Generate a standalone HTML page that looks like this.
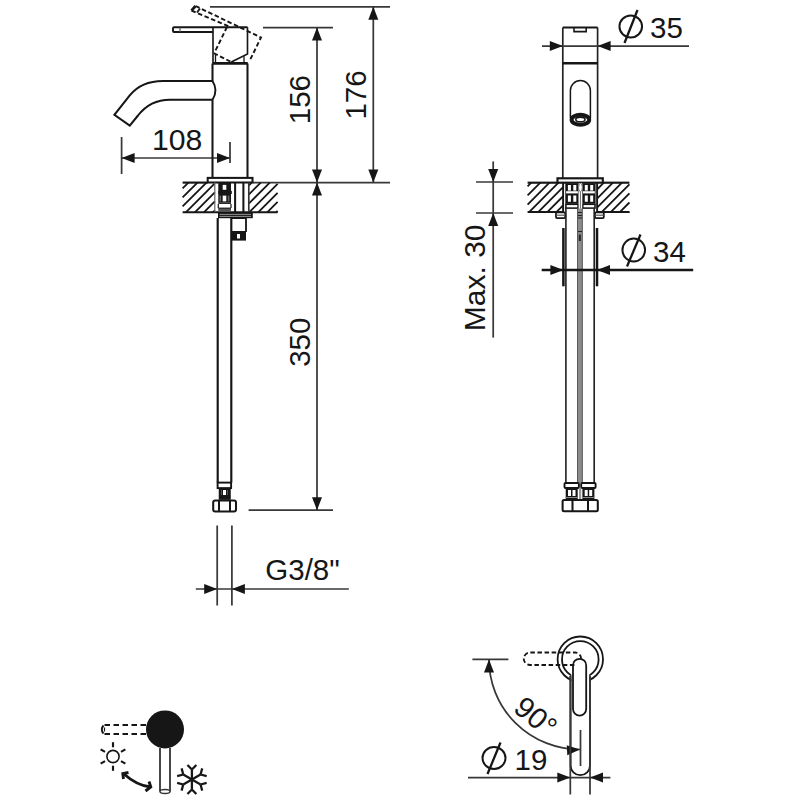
<!DOCTYPE html>
<html><head><meta charset="utf-8"><style>
html,body{margin:0;padding:0;background:#fff;}
svg{display:block;}
text{font-family:"Liberation Sans",sans-serif;fill:#161616;}
</style></head><body>
<svg width="800" height="800" viewBox="0 0 800 800">
<line x1="210" y1="6.8" x2="390" y2="6.8" stroke="#383838" stroke-width="1.74" />
<line x1="263" y1="27.6" x2="333" y2="27.6" stroke="#383838" stroke-width="1.74" />
<line x1="253" y1="182.6" x2="390" y2="182.6" stroke="#383838" stroke-width="1.74" />
<line x1="248.6" y1="510.2" x2="333" y2="510.2" stroke="#383838" stroke-width="1.74" />
<line x1="317" y1="27.6" x2="317" y2="182.6" stroke="#383838" stroke-width="1.74" />
<polygon points="317,27.6 322,40.6 312,40.6" fill="#161616"/>
<polygon points="317,182.6 312,169.6 322,169.6" fill="#161616"/>
<line x1="373.3" y1="6.8" x2="373.3" y2="182.6" stroke="#383838" stroke-width="1.74" />
<polygon points="373.3,6.8 378.3,19.8 368.3,19.8" fill="#161616"/>
<polygon points="373.3,182.6 368.3,169.6 378.3,169.6" fill="#161616"/>
<line x1="317" y1="182.6" x2="317" y2="510.2" stroke="#383838" stroke-width="1.74" />
<polygon points="317,182.6 322,195.6 312,195.6" fill="#161616"/>
<polygon points="317,510.2 312,497.2 322,497.2" fill="#161616"/>
<line x1="121.6" y1="158" x2="230" y2="158" stroke="#383838" stroke-width="1.74" />
<line x1="121.6" y1="137" x2="121.6" y2="174" stroke="#383838" stroke-width="1.74" />
<line x1="230" y1="142" x2="230" y2="163" stroke="#383838" stroke-width="1.74" />
<polygon points="121.6,158 134.6,153 134.6,163" fill="#161616"/>
<polygon points="230,158 217,163 217,153" fill="#161616"/>
<line x1="195.8" y1="589" x2="348.8" y2="589" stroke="#383838" stroke-width="1.74" />
<line x1="217.2" y1="525.5" x2="217.2" y2="605.5" stroke="#383838" stroke-width="1.74" />
<line x1="231.9" y1="525.5" x2="231.9" y2="605.5" stroke="#383838" stroke-width="1.74" />
<polygon points="217.2,589 204.2,594 204.2,584" fill="#161616"/>
<polygon points="231.9,589 244.9,584 244.9,594" fill="#161616"/>
<text x="0" y="0" font-size="30.2" text-anchor="middle" transform="translate(177.2 149.9) scale(1.0 1)" >108</text>
<text x="0" y="0" font-size="29.5" text-anchor="middle" transform="translate(310 342.2) rotate(-90) scale(1.0 1)" >350</text>
<text x="0" y="0" font-size="29.5" text-anchor="middle" transform="translate(310 99.6) rotate(-90) scale(1.0 1)" >156</text>
<text x="0" y="0" font-size="29.5" text-anchor="middle" transform="translate(366 95) rotate(-90) scale(1.0 1)" >176</text>
<text x="0" y="0" font-size="29.5" text-anchor="middle" transform="translate(302.5 579.6) scale(1.0 1)" >G3/8"</text>
<path d="M213,27.2 L174,27.2 Q173,27.2 173,28.2 L173,31 Q173,32 174,32 L213,32" fill="none" stroke="#161616" stroke-width="1.92" />
<line x1="213" y1="27.2" x2="247.5" y2="27.2" stroke="#161616" stroke-width="1.92" />
<line x1="180" y1="27.5" x2="180" y2="32" stroke="#555" stroke-width="1.2" />
<path d="M213,27.2 L213,63.4 M247.5,27.2 L247.5,54 L231.3,62" fill="none" stroke="#161616" stroke-width="1.62" />
<line x1="215.5" y1="54" x2="215.5" y2="63" stroke="#161616" stroke-width="1.32" />
<line x1="244" y1="56.3" x2="244" y2="63" stroke="#161616" stroke-width="1.32" />
<line x1="212.5" y1="63.4" x2="247.8" y2="63.4" stroke="#161616" stroke-width="2.76" />
<path d="M195.5,6 L261,37.5 L249.3,61.5" fill="none" stroke="#161616" stroke-width="1.92" stroke-dasharray="4.5,2.6"/>
<path d="M191.5,10.5 L229,26.5" fill="none" stroke="#161616" stroke-width="1.92" stroke-dasharray="4.5,2.6"/>
<path d="M191.5,10.5 L195.5,6" fill="none" stroke="#161616" stroke-width="2.64" />
<path d="M197,12.5 L200,8.5" fill="none" stroke="#161616" stroke-width="1.8" />
<path d="M227,27 L216.5,48.5 Q214.8,51 214.5,53.5 L231.3,62" fill="none" stroke="#161616" stroke-width="1.92" stroke-dasharray="4.5,2.6"/>
<path d="M212.5,63.4 L212.5,80.9 M212.5,99.7 L212.5,177.8 M247.5,63.4 L247.5,177.8" fill="none" stroke="#161616" stroke-width="2.04" />
<path d="M212.5,80.9 L163,80.9 Q141.25,80.9 129.75,95.4 L114.4,114.75 L129.75,125.6 L138,115.5 Q150.1,99.7 170,99.7 L212.5,99.7" fill="none" stroke="#161616" stroke-width="2.04" />
<path d="M212.5,80.9 Q218.5,90.3 212.5,99.7" fill="none" stroke="#161616" stroke-width="1.92" />
<rect x="207.7" y="177.9" width="44.8" height="4.6" fill="none" stroke="#161616" stroke-width="2.04" rx="0" />
<line x1="182.6" y1="182.6" x2="207.7" y2="182.6" stroke="#161616" stroke-width="2.16" />
<path d="M182.6,188.4 L188.4,182.6 M182.6,197.44 L197.44,182.6 M182.6,206.48 L206.48,182.6 M185.82,212.3 L214.8,183.32 M194.86,212.3 L214.8,192.36 M203.9,212.3 L214.8,201.4 M212.94,212.3 L214.8,210.44" fill="none" stroke="#161616" stroke-width="1.8" />
<path d="M249,185.28 L251.68,182.6 M249,194.32 L260.72,182.6 M249,203.36 L269.76,182.6 M249.1,212.3 L277.6,183.8 M258.14,212.3 L277.6,192.84 M267.18,212.3 L277.6,201.88 M276.22,212.3 L277.6,210.92" fill="none" stroke="#161616" stroke-width="1.8" />
<line x1="182.6" y1="212.3" x2="277.6" y2="212.3" stroke="#161616" stroke-width="2.04" />
<line x1="214.8" y1="182.6" x2="214.8" y2="212.3" stroke="#666" stroke-width="1.2" />
<line x1="248.8" y1="182.6" x2="248.8" y2="212.3" stroke="#333" stroke-width="1.68" />
<rect x="218.3" y="182.6" width="12.7" height="20" fill="#161616"/>
<rect x="222.7" y="184.9" width="3.6" height="4.9" fill="#fff"/>
<rect x="218.3" y="190.9" width="13.5" height="3.1" fill="#161616"/>
<rect x="222.7" y="195.6" width="3.6" height="5.8" fill="#fff"/>
<rect x="219.5" y="195.6" width="1.6" height="5.8" fill="#666"/>
<rect x="227.8" y="195.6" width="1.6" height="5.8" fill="#666"/>
<rect x="218.3" y="202.5" width="12.7" height="1.4" fill="#161616"/>
<rect x="218.3" y="208" width="12.7" height="3.5" fill="#555"/>
<rect x="218.3" y="207.6" width="12.7" height="1" fill="#161616"/>
<line x1="218.3" y1="203.9" x2="218.3" y2="208" stroke="#161616" stroke-width="1.2" />
<line x1="231" y1="203.9" x2="231" y2="208" stroke="#161616" stroke-width="1.2" />
<line x1="235.1" y1="182.6" x2="235.1" y2="212.3" stroke="#161616" stroke-width="2.04" />
<line x1="243.4" y1="182.6" x2="243.4" y2="212.3" stroke="#161616" stroke-width="2.04" />
<rect x="218" y="212.1" width="34.8" height="6.1" fill="#161616"/>
<line x1="219.5" y1="214.4" x2="251" y2="214.4" stroke="#aaa" stroke-width="0.84" />
<line x1="219.5" y1="216.4" x2="251" y2="216.4" stroke="#aaa" stroke-width="0.84" />
<path d="M217.7,218 L217.7,482.6 M231.3,218 L231.3,482.6" fill="none" stroke="#161616" stroke-width="2.16" />
<path d="M231.6,218.2 L246,218.2 L246,232 M231.6,232 L246,232" fill="none" stroke="#161616" stroke-width="1.8" />
<rect x="231.6" y="232" width="14.4" height="8.6" fill="#161616"/>
<rect x="237" y="234" width="3" height="4.5" fill="#fff"/>
<rect x="217.6" y="482.6" width="13.5" height="5.5" fill="none" stroke="#161616" stroke-width="1.92" rx="0" />
<rect x="218.75" y="488" width="12" height="9" fill="#161616"/>
<rect x="223" y="490" width="3" height="5" fill="#fff"/>
<rect x="221" y="490" width="1" height="5" fill="#555"/>
<rect x="227" y="490" width="1" height="5" fill="#555"/>
<rect x="218.75" y="496.8" width="12" height="3" fill="#161616"/>
<rect x="213.2" y="500.6" width="22.8" height="10.8" fill="none" stroke="#161616" stroke-width="2.04" rx="2" />
<line x1="219" y1="500.6" x2="219" y2="511.4" stroke="#161616" stroke-width="2.04" />
<line x1="230" y1="500.6" x2="230" y2="511.4" stroke="#161616" stroke-width="2.04" />
<path d="M562.8,27.5 L562.8,177.9 M597.6,27.5 L597.6,177.9" fill="none" stroke="#222" stroke-width="1.68" />
<line x1="562.8" y1="27.5" x2="597.6" y2="27.5" stroke="#161616" stroke-width="1.92" />
<path d="M574,27.5 L574,31.6 L586.2,31.6 L586.2,27.5" fill="none" stroke="#161616" stroke-width="1.56" />
<line x1="562.8" y1="63.2" x2="597.6" y2="63.2" stroke="#161616" stroke-width="2.52" />
<path d="M570.4,118 L570.4,90.6 A10,10 0 0 1 590.4,90.6 L590.4,118" fill="none" stroke="#161616" stroke-width="1.5" />
<ellipse cx="580.4" cy="119.8" rx="8.8" ry="5" fill="none" stroke="#161616" stroke-width="4"/>
<ellipse cx="580.4" cy="119.4" rx="4.6" ry="2.3" fill="#fff" stroke="#161616" stroke-width="1.6"/>
<line x1="542" y1="46.1" x2="689" y2="46.1" stroke="#383838" stroke-width="1.74" />
<polygon points="562.8,46.1 549.8,51.1 549.8,41.1" fill="#161616"/>
<polygon points="597.6,46.1 610.6,41.1 610.6,51.1" fill="#161616"/>
<ellipse cx="630.75" cy="26.5" rx="11.3" ry="11" fill="none" stroke="#161616" stroke-width="2"/>
<line x1="637.5" y1="10" x2="624.5" y2="43" stroke="#161616" stroke-width="2.28" />
<text x="0" y="0" font-size="29.5" text-anchor="start" transform="translate(650 37.8) scale(1.0 1)" >35</text>
<rect x="557.5" y="178.3" width="45.3" height="4.4" fill="none" stroke="#161616" stroke-width="2.16" rx="0" />
<line x1="527.6" y1="182.7" x2="557.5" y2="182.7" stroke="#161616" stroke-width="2.16" />
<line x1="602.8" y1="182.7" x2="629.4" y2="182.7" stroke="#161616" stroke-width="2.16" />
<path d="M527.6,186.4 L531.3,182.7 M527.6,195.47 L540.37,182.7 M527.6,204.54 L549.44,182.7 M529.11,212.1 L558.51,182.7 M538.18,212.1 L563.1,187.18 M547.25,212.1 L563.1,196.25 M556.32,212.1 L563.1,205.32" fill="none" stroke="#161616" stroke-width="1.8" />
<path d="M597.3,189.26 L603.86,182.7 M597.3,198.33 L612.93,182.7 M597.3,207.4 L622,182.7 M601.67,212.1 L629.4,184.37 M610.74,212.1 L629.4,193.44 M619.81,212.1 L629.4,202.51 M628.88,212.1 L629.4,211.58" fill="none" stroke="#161616" stroke-width="1.8" />
<line x1="527.6" y1="212.1" x2="563.1" y2="212.1" stroke="#161616" stroke-width="2.04" />
<line x1="597.1" y1="212.1" x2="629.4" y2="212.1" stroke="#161616" stroke-width="2.04" />
<line x1="563.1" y1="182.7" x2="563.1" y2="212.1" stroke="#161616" stroke-width="1.92" />
<line x1="597.1" y1="182.7" x2="597.1" y2="212.1" stroke="#161616" stroke-width="1.92" />
<rect x="565.3" y="183.3" width="13.4" height="20.5" fill="#161616"/>
<rect x="567.9" y="185" width="3" height="5.6" fill="#fff"/>
<rect x="567.9" y="195.5" width="3" height="6.3" fill="#fff"/>
<rect x="573.3" y="185" width="3" height="5.6" fill="#fff"/>
<rect x="573.3" y="195.5" width="3" height="6.3" fill="#fff"/>
<rect x="566.1" y="191.2" width="11.8" height="2.2" fill="#fff"/>
<rect x="565.9" y="204.3" width="12.2" height="3.8" fill="none" stroke="#161616" stroke-width="1.56" rx="0" />
<rect x="582.2" y="183.3" width="13.4" height="20.5" fill="#161616"/>
<rect x="584.8" y="185" width="3" height="5.6" fill="#fff"/>
<rect x="584.8" y="195.5" width="3" height="6.3" fill="#fff"/>
<rect x="590.2" y="185" width="3" height="5.6" fill="#fff"/>
<rect x="590.2" y="195.5" width="3" height="6.3" fill="#fff"/>
<rect x="583" y="191.2" width="11.8" height="2.2" fill="#fff"/>
<rect x="582.8" y="204.3" width="12.2" height="3.8" fill="none" stroke="#161616" stroke-width="1.56" rx="0" />
<rect x="578.7" y="183.3" width="3.5" height="25" fill="#fff"/>
<ellipse cx="580.45" cy="187.5" rx="1.9" ry="4" fill="#fff" stroke="#555" stroke-width="0.8"/>
<line x1="580.45" y1="191.5" x2="580.45" y2="208.5" stroke="#777" stroke-width="1.08" />
<rect x="556" y="212.3" width="9.2" height="5.8" fill="none" stroke="#161616" stroke-width="1.8" rx="1" />
<line x1="556" y1="215.2" x2="565.2" y2="215.2" stroke="#555" stroke-width="1.2" />
<rect x="595" y="212.3" width="8.8" height="5.8" fill="none" stroke="#161616" stroke-width="1.8" rx="1" />
<line x1="595" y1="215.2" x2="603.8" y2="215.2" stroke="#555" stroke-width="1.2" />
<path d="M565.9,208 L565.9,482.8 M594.2,208 L594.2,482.8" fill="none" stroke="#222" stroke-width="1.62" />
<rect x="577.3" y="208.5" width="5.2" height="274.5" fill="#8c8c8c"/>
<line x1="577.5" y1="208.5" x2="577.5" y2="482.8" stroke="#555" stroke-width="0.96" />
<line x1="582.3" y1="208.5" x2="582.3" y2="482.8" stroke="#555" stroke-width="0.96" />
<line x1="578" y1="212.5" x2="582" y2="212.5" stroke="#222" stroke-width="1.08" />
<line x1="578" y1="215.5" x2="582" y2="215.5" stroke="#222" stroke-width="1.08" />
<line x1="578" y1="218" x2="582" y2="218" stroke="#222" stroke-width="1.08" />
<line x1="578" y1="231.5" x2="582" y2="231.5" stroke="#222" stroke-width="1.08" />
<rect x="578.8" y="234.5" width="2" height="6.5" fill="#222"/>
<line x1="541.7" y1="270" x2="693.2" y2="270" stroke="#161616" stroke-width="2.28" />
<line x1="563.4" y1="228" x2="563.4" y2="286.3" stroke="#161616" stroke-width="2.52" />
<line x1="597" y1="228" x2="597" y2="286.3" stroke="#161616" stroke-width="2.52" />
<polygon points="563.4,270 550.4,275 550.4,265" fill="#161616"/>
<polygon points="597,270 610,265 610,275" fill="#161616"/>
<ellipse cx="633.75" cy="250" rx="11.3" ry="11.5" fill="none" stroke="#161616" stroke-width="2"/>
<line x1="640.5" y1="234.5" x2="627" y2="266.5" stroke="#161616" stroke-width="2.28" />
<text x="0" y="0" font-size="29.5" text-anchor="start" transform="translate(653 261.8) scale(1.0 1)" >34</text>
<line x1="493.2" y1="161.4" x2="493.2" y2="337.6" stroke="#383838" stroke-width="1.74" />
<line x1="476" y1="182" x2="513" y2="182" stroke="#383838" stroke-width="1.74" />
<line x1="476" y1="213" x2="513" y2="213" stroke="#383838" stroke-width="1.74" />
<polygon points="493.2,182 488.2,169 498.2,169" fill="#161616"/>
<polygon points="493.2,213 498.2,226 488.2,226" fill="#161616"/>
<text x="0" y="0" font-size="30" text-anchor="middle" transform="translate(485.3 277.8) rotate(-90) scale(1.0 1)" >Max. 30</text>
<rect x="564.5" y="483" width="14.4" height="5" fill="none" stroke="#161616" stroke-width="1.92" rx="1" />
<rect x="565.7" y="488" width="12" height="12.2" fill="#161616"/>
<rect x="568" y="490" width="3" height="6" fill="#fff"/>
<rect x="572.5" y="490" width="3" height="6" fill="#fff"/>
<rect x="565.7" y="497" width="12" height="1" fill="#888"/>
<rect x="581.2" y="483" width="14.4" height="5" fill="none" stroke="#161616" stroke-width="1.92" rx="1" />
<rect x="582.4" y="488" width="12" height="12.2" fill="#161616"/>
<rect x="584.7" y="490" width="3" height="6" fill="#fff"/>
<rect x="589.2" y="490" width="3" height="6" fill="#fff"/>
<rect x="582.4" y="497" width="12" height="1" fill="#888"/>
<rect x="579" y="488" width="2.2" height="12" fill="#999"/>
<rect x="562.6" y="500.1" width="35.2" height="11.1" fill="none" stroke="#161616" stroke-width="2.04" rx="1.5" />
<line x1="572.5" y1="500.1" x2="572.5" y2="511.2" stroke="#161616" stroke-width="2.04" />
<line x1="588" y1="500.1" x2="588" y2="511.2" stroke="#161616" stroke-width="2.04" />
<circle cx="580.3" cy="659.2" r="22.7" fill="none" stroke="#161616" stroke-width="1.8"/>
<circle cx="580.3" cy="659.4" r="18.3" fill="none" stroke="#161616" stroke-width="1.8"/>
<rect x="571.4" y="671" width="17.8" height="106" fill="#fff"/>
<path d="M570.6,676 L570.6,765.5 A9.7,9.7 0 0 0 590,765.5 L590,676" fill="none" stroke="#161616" stroke-width="1.8" />
<path d="M573,665.4 A6.6,6.6 0 0 1 586.2,665.4 L586.2,709 A6.6,6.6 0 0 1 573,709 Z" fill="none" stroke="#161616" stroke-width="1.8" />
<path d="M581.2,658.8 A6.3,6.3 0 0 0 575,652.5 L530,652.5 A6.25,6.25 0 0 0 530,665 L575,665" fill="none" stroke="#161616" stroke-width="1.8" stroke-dasharray="4.5,2.6"/>
<line x1="472.4" y1="659.4" x2="508.4" y2="659.4" stroke="#383838" stroke-width="1.74" />
<path d="M489,659.4 A91,90 0 0 0 580,749.5" fill="none" stroke="#383838" stroke-width="1.74" />
<polygon points="489,659.4 494,672.4 484,672.4" fill="#161616"/>
<polygon points="580,749.5 567.27,755.14 566.77,745.16" fill="#161616"/>
<line x1="580.5" y1="730" x2="580.5" y2="766" stroke="#383838" stroke-width="1.74" />
<text x="0" y="0" font-size="29.5" text-anchor="middle" transform="translate(529.2 724.6) rotate(40) scale(1.0 1)" >90°</text>
<line x1="468" y1="777.6" x2="610.4" y2="777.6" stroke="#383838" stroke-width="1.74" />
<line x1="570.3" y1="676" x2="570.3" y2="794.5" stroke="#383838" stroke-width="1.74" />
<line x1="590" y1="676" x2="590" y2="794.5" stroke="#383838" stroke-width="1.74" />
<polygon points="570.3,777.6 557.3,782.6 557.3,772.6" fill="#161616"/>
<polygon points="590,777.6 603,772.6 603,782.6" fill="#161616"/>
<ellipse cx="494" cy="758" rx="11.5" ry="11" fill="none" stroke="#161616" stroke-width="2"/>
<line x1="500.5" y1="742.5" x2="487.5" y2="774" stroke="#161616" stroke-width="2.28" />
<text x="0" y="0" font-size="29.5" text-anchor="start" transform="translate(514.5 769.5) scale(1.0 1)" >19</text>
<circle cx="165" cy="729.4" r="19" fill="#161616"/>
<path d="M146,725 L104,725 M146,734 L104,734" fill="none" stroke="#161616" stroke-width="1.92" stroke-dasharray="5.5,3.5"/>
<path d="M103.5,725.5 Q100,729.5 103.5,733.5" fill="none" stroke="#161616" stroke-width="1.92" />
<path d="M104.5,727.5 L104.5,731.5" fill="none" stroke="#161616" stroke-width="1.2" />
<path d="M160,748 L160,791.5 M170,748 L170,791.5" fill="none" stroke="#333" stroke-width="1.8" />
<ellipse cx="165" cy="791.5" rx="5" ry="2" fill="#fff" stroke="#333" stroke-width="1.4"/>
<circle cx="113" cy="756.5" r="6.1" fill="none" stroke="#161616" stroke-width="1.6"/>
<line x1="113" y1="747.3" x2="113" y2="742.2" stroke="#161616" stroke-width="2.16" />
<line x1="105.03" y1="751.9" x2="100.62" y2="749.35" stroke="#161616" stroke-width="2.16" />
<line x1="105.03" y1="761.1" x2="100.62" y2="763.65" stroke="#161616" stroke-width="2.16" />
<line x1="113" y1="765.7" x2="113" y2="770.8" stroke="#161616" stroke-width="2.16" />
<line x1="120.97" y1="761.1" x2="125.38" y2="763.65" stroke="#161616" stroke-width="2.16" />
<line x1="120.97" y1="751.9" x2="125.38" y2="749.35" stroke="#161616" stroke-width="2.16" />
<path d="M124,774 Q136.75,785.5 150.5,787" fill="none" stroke="#161616" stroke-width="2.88" />
<path d="M123.5,779 L122.8,773.6 L128.5,772.5" fill="none" stroke="#161616" stroke-width="2.88" stroke-linejoin="miter"/>
<path d="M145.5,791 L150.8,787 L149,781.5" fill="none" stroke="#161616" stroke-width="2.88" stroke-linejoin="miter"/>
<line x1="191.9" y1="779.5" x2="191.9" y2="769.5" stroke="#161616" stroke-width="2.28" />
<line x1="191.9" y1="769.5" x2="187.45" y2="765.05" stroke="#161616" stroke-width="2.28" />
<line x1="191.9" y1="769.5" x2="196.35" y2="765.05" stroke="#161616" stroke-width="2.28" />
<line x1="191.9" y1="779.5" x2="183.24" y2="774.5" stroke="#161616" stroke-width="2.28" />
<line x1="183.24" y1="774.5" x2="177.15" y2="776.13" stroke="#161616" stroke-width="2.28" />
<line x1="183.24" y1="774.5" x2="181.61" y2="768.41" stroke="#161616" stroke-width="2.28" />
<line x1="191.9" y1="779.5" x2="183.24" y2="784.5" stroke="#161616" stroke-width="2.28" />
<line x1="183.24" y1="784.5" x2="181.61" y2="790.59" stroke="#161616" stroke-width="2.28" />
<line x1="183.24" y1="784.5" x2="177.15" y2="782.87" stroke="#161616" stroke-width="2.28" />
<line x1="191.9" y1="779.5" x2="191.9" y2="789.5" stroke="#161616" stroke-width="2.28" />
<line x1="191.9" y1="789.5" x2="196.35" y2="793.95" stroke="#161616" stroke-width="2.28" />
<line x1="191.9" y1="789.5" x2="187.45" y2="793.95" stroke="#161616" stroke-width="2.28" />
<line x1="191.9" y1="779.5" x2="200.56" y2="784.5" stroke="#161616" stroke-width="2.28" />
<line x1="200.56" y1="784.5" x2="206.65" y2="782.87" stroke="#161616" stroke-width="2.28" />
<line x1="200.56" y1="784.5" x2="202.19" y2="790.59" stroke="#161616" stroke-width="2.28" />
<line x1="191.9" y1="779.5" x2="200.56" y2="774.5" stroke="#161616" stroke-width="2.28" />
<line x1="200.56" y1="774.5" x2="202.19" y2="768.41" stroke="#161616" stroke-width="2.28" />
<line x1="200.56" y1="774.5" x2="206.65" y2="776.13" stroke="#161616" stroke-width="2.28" />
</svg></body></html>
